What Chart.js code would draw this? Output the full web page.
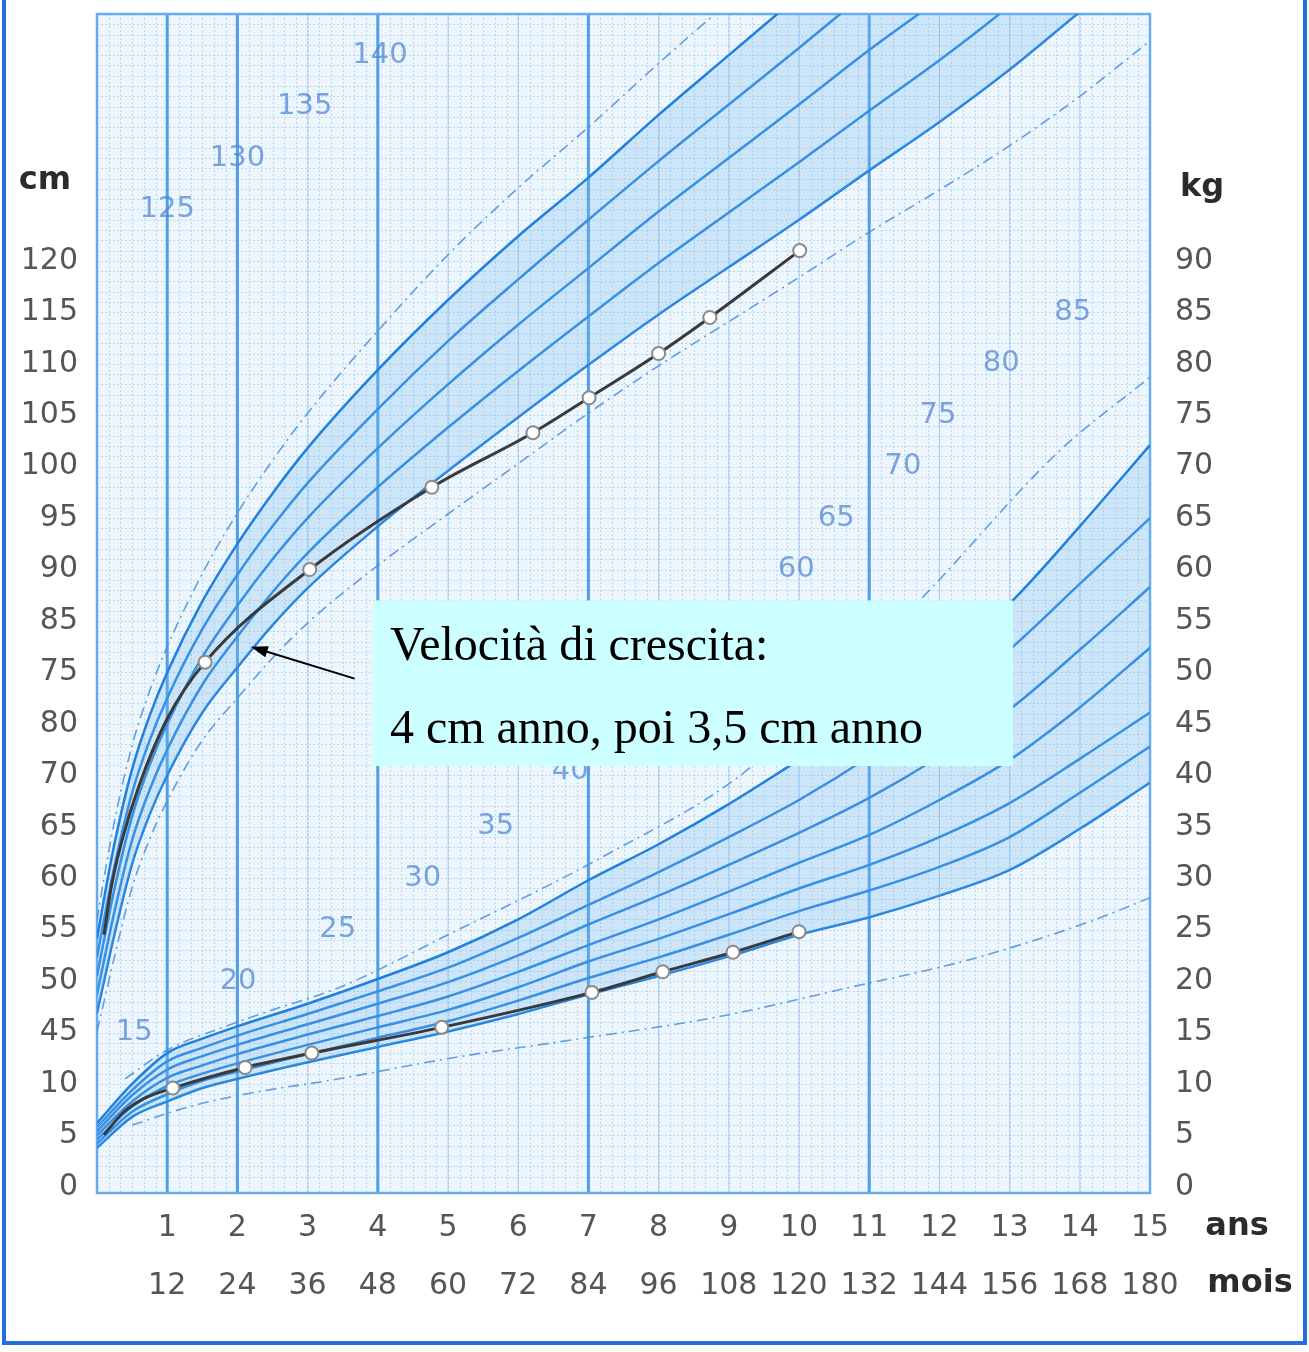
<!DOCTYPE html>
<html>
<head>
<meta charset="utf-8">
<script src="https://cdn.jsdelivr.net/npm/chart.js@4.4.1/dist/chart.umd.min.js"></script>
<style>
  html, body { margin: 0; padding: 0; background: #fff; }
  #wrap { width: 1309px; height: 1352px; }
</style>
</head>
<body>
<div id="wrap"><canvas id="myChart" width="1309" height="1352"></canvas></div>
<script>
// axes
const yearTicks = [1, 2, 3, 4, 5, 6, 7, 8, 9, 10, 11, 12, 13, 14, 15];
const yearLabels = ['1', '2', '3', '4', '5', '6', '7', '8', '9', '10', '11', '12', '13', '14', '15'];
const monthLabels = ['12', '24', '36', '48', '60', '72', '84', '96', '108', '120', '132', '144', '156', '168', '180'];
const cmTicks = [30, 35, 40, 45, 50, 55, 60, 65, 70, 75, 80, 85, 90, 95, 100, 105, 110, 115, 120];
const cmLabels = ['0', '5', '10', '45', '50', '55', '60', '65', '70', '80', '75', '85', '90', '95', '100', '105', '110', '115', '120'];
const kgTicks = [0, 5, 10, 15, 20, 25, 30, 35, 40, 45, 50, 55, 60, 65, 70, 75, 80, 85, 90];
const kgLabels = ['0', '5', '10', '15', '20', '25', '30', '35', '40', '45', '50', '55', '60', '65', '70', '75', '80', '85', '90'];
const majorYears = [1, 2, 4, 7, 11];

// height reference curves (cm)
const hAges   = [0, 0.1, 0.25, 0.5, 0.75, 1, 1.5, 2, 2.5, 3, 4, 5, 6, 7, 8, 9, 10, 11, 12, 13, 14, 15];
const hPlus3  = [55.9, 60, 65.6, 72.9, 78.2, 82.5, 89.6, 95.5, 100.6, 105.2, 113.2, 120.6, 127.1, 133.0, 139.2, 145.2, 151.2, 157.4, 163.5, 170.2, 177.2, 184];
const hPlus2  = [54.1, 58, 63.4, 70.6, 75.8, 80, 86.9, 92.5, 97.4, 101.8, 109.4, 116.2, 122.4, 128.1, 134.2, 140.0, 145.8, 151.7, 157.4, 163.6, 170.4, 177];
const hPlus1  = [52.3, 56, 61.2, 68.3, 73.4, 77.5, 84.2, 89.5, 94.2, 98.4, 105.6, 112.2, 118.2, 124, 129.7, 135.2, 140.7, 146.3, 151.7, 157.6, 164, 170.2];
const hMedian = [50.5, 54, 59, 66, 71, 75, 81.5, 86.5, 91, 95, 101.8, 108, 113.8, 119.3, 124.8, 130, 135.2, 140.5, 145.5, 151, 157, 163];
const hMinus1 = [48.7, 52, 56.8, 63.7, 68.6, 72.5, 78.8, 83.5, 87.8, 91.6, 98, 103.8, 109.3, 114.6, 119.8, 124.7, 129.6, 134.6, 139.5, 144.8, 150.6, 156.4];
const hMinus2 = [46.9, 50, 54.6, 61.4, 66.2, 70, 76.1, 80.5, 84.6, 88.2, 94.2, 99.6, 104.8, 109.9, 114.8, 119.4, 124, 128.8, 133.5, 138.6, 144.2, 149.6];
const hMinus3 = [45.1, 48, 52.4, 59.1, 63.8, 67.5, 73.4, 77.5, 81.4, 84.8, 90.4, 95.4, 100.3, 105.2, 109.8, 114.1, 118.4, 122.8, 126.9, 131.2, 136, 141.4];

// weight reference curves (kg)
const wAges = [0, 0.5, 1, 1.5, 2, 3, 4, 5, 6, 7, 8, 9, 10, 11, 12, 13, 14, 15];
const w97 = [6.2, 10.0, 13.0, 14.4, 15.6, 17.8, 20.2, 22.8, 26.0, 29.8, 33.3, 37.2, 41.5, 45.8, 50.8, 56.7, 64.2, 72.1];
const w90 = [5.8, 9.4, 12.2, 13.5, 14.7, 16.8, 19.0, 21.3, 24.2, 27.4, 30.6, 34.0, 37.6, 41.8, 46.6, 52.2, 58.6, 65.0];
const w75 = [5.4, 8.9, 11.4, 12.7, 13.8, 15.8, 17.8, 19.9, 22.5, 25.5, 28.3, 31.3, 34.4, 37.8, 41.8, 46.4, 52.2, 58.3];
const w50 = [5.0, 8.3, 10.6, 11.8, 12.9, 14.8, 16.6, 18.5, 20.9, 23.5, 26.0, 28.7, 31.5, 34.2, 37.6, 41.5, 46.6, 52.4];
const w25 = [4.6, 7.8, 9.8, 11.0, 12.0, 13.8, 15.5, 17.2, 19.4, 21.9, 24.1, 26.5, 29.0, 31.3, 34.0, 37.3, 41.6, 46.1];
const w10 = [4.2, 7.3, 9.0, 10.3, 11.2, 12.9, 14.5, 16.1, 18.1, 20.3, 22.3, 24.5, 26.8, 28.8, 31.1, 34.0, 38.3, 42.8];
const w3  = [3.8, 6.8, 8.3, 9.6, 10.5, 12.1, 13.6, 15.1, 16.8, 18.7, 20.5, 22.4, 24.5, 26.2, 28.3, 30.8, 34.8, 39.3];
const wHighAges = [0.4, 1.0, 1.71, 2.5, 3.46, 5.0, 7.21, 9.26, 11.72, 13.72, 15];
const wHigh     = [10.5, 13.3, 15.3, 17.2, 19.4, 24.5, 32.1, 40.5, 57.0, 71.6, 78.7];
const wLowAges  = [0.5, 1.32, 2.18, 3.36, 5.03, 6.98, 8.83, 10.73, 12.44, 14.19, 15];
const wLow      = [6.0, 7.8, 9.1, 10.4, 12.5, 14.5, 16.5, 19.4, 22.1, 25.9, 28.1];

// the child
const childHeightAges = [0.1, 0.2, 0.35, 0.6, 1.0, 1.54, 3.03, 4.77, 6.21, 7.01, 8.0, 8.73, 10.01];
const childHeight     = [54.5, 59, 63.5, 69, 75.5, 81.0, 90.0, 98.0, 103.3, 106.7, 111.0, 114.5, 121.0];
const childHeightSeen = [false, false, false, false, false, true, true, true, true, true, true, true, true];
const childWeightAges = [0.1, 0.37, 0.66, 1.08, 2.11, 3.06, 4.91, 7.05, 8.06, 9.06, 10.0];
const childWeight     = [5.05, 7.2, 8.55, 9.6, 11.6, 13.0, 15.5, 18.9, 20.9, 22.8, 24.8];
const childWeightSeen = [false, false, false, true, true, true, true, true, true, true, true];

// numbers printed on the paper
const heightMarks = ['125', '130', '135', '140'];
const heightMarkAges = [1.0, 2.0, 2.96, 4.03];
const heightMarkValues = [125, 130, 135, 140];
const weightMarks = ['15', '20', '25', '30', '35', '40', '60', '65', '70', '75', '80', '85'];
const weightMarkAges = [0.53, 2.01, 3.43, 4.64, 5.68, 6.74, 9.96, 10.53, 11.48, 11.98, 12.88, 13.9];
const weightMarkValues = [15, 20, 25, 30, 35, 40.4, 60, 65, 70, 75, 80, 85];

const noteLines = ['Velocità di crescita:', '4 cm anno, poi 3,5 cm anno'];

const BLUE = 'rgb(32,128,222)';
const DASH_BLUE = 'rgba(70,145,220,0.85)';
const BAND = 'rgba(120,188,240,0.28)';
const SANS = '"DejaVu Sans"';

function pts(xs, ys) {
    return xs.map((x, i) => ({ x: x, y: ys[i] }));
}

function solid(data, axis, fill) {
    return {
        data: data, yAxisID: axis, borderColor: BLUE, borderWidth: 2.5,
        pointRadius: 0, cubicInterpolationMode: 'monotone',
        fill: fill || false, backgroundColor: BAND, order: 2
    };
}

function dashed(data, axis) {
    return {
        data: data, yAxisID: axis, borderColor: DASH_BLUE, borderWidth: 1.6,
        borderDash: [11, 5, 2, 5], pointRadius: 0, cubicInterpolationMode: 'monotone',
        fill: false, order: 3
    };
}

function child(xs, ys, seen, axis) {
    return {
        data: pts(xs, ys), yAxisID: axis, borderColor: '#3a3a3a', borderWidth: 3,
        cubicInterpolationMode: 'monotone',
        pointRadius: seen.map(s => s ? 6.5 : 0),
        pointBackgroundColor: '#ffffff', pointBorderColor: '#8a8a8a', pointBorderWidth: 2,
        fill: false, order: 0
    };
}

const paper = {
    id: 'paper',
    beforeDatasetsDraw(chart) {
        const { ctx, chartArea: a, scales } = chart;
        const x = scales.x, yW = scales.yW, yH = scales.yH;
        ctx.save();
        ctx.fillStyle = 'rgb(238,246,253)';
        ctx.fillRect(a.left, a.top, a.right - a.left, a.bottom - a.top);
        // millimetre paper
        ctx.strokeStyle = 'rgba(135,185,232,0.5)';
        ctx.lineWidth = 1;
        ctx.setLineDash([2, 2]);
        for (let m = 2; m < 180; m += 2) {
            const px = Math.round(x.getPixelForValue(m / 12)) + 0.5;
            ctx.beginPath(); ctx.moveTo(px, a.top); ctx.lineTo(px, a.bottom); ctx.stroke();
        }
        for (let v = 1; v < 114; v += 1) {
            const py = Math.round(yW.getPixelForValue(v)) + 0.5;
            ctx.beginPath(); ctx.moveTo(a.left, py); ctx.lineTo(a.right, py); ctx.stroke();
        }
        ctx.setLineDash([]);
        ctx.strokeStyle = 'rgba(110,170,232,0.5)';
        for (let yr = 1; yr < 15; yr++) {
            const px = x.getPixelForValue(yr);
            ctx.beginPath(); ctx.moveTo(px, a.top); ctx.lineTo(px, a.bottom); ctx.stroke();
        }
        ctx.strokeStyle = 'rgb(78,158,232)';
        ctx.lineWidth = 3;
        majorYears.forEach(yr => {
            const px = x.getPixelForValue(yr);
            ctx.beginPath(); ctx.moveTo(px, a.top); ctx.lineTo(px, a.bottom); ctx.stroke();
        });
        ctx.strokeStyle = 'rgb(105,172,236)';
        ctx.lineWidth = 2.5;
        ctx.strokeRect(a.left, a.top, a.right - a.left, a.bottom - a.top);

        ctx.fillStyle = 'rgba(80,135,210,0.75)';
        ctx.font = '29px ' + SANS;
        ctx.textAlign = 'center';
        ctx.textBaseline = 'middle';
        heightMarks.forEach((t, i) => {
            ctx.fillText(t, x.getPixelForValue(heightMarkAges[i]), yH.getPixelForValue(heightMarkValues[i]));
        });
        weightMarks.forEach((t, i) => {
            ctx.fillText(t, x.getPixelForValue(weightMarkAges[i]), yW.getPixelForValue(weightMarkValues[i]));
        });
        ctx.restore();
    }
};

const note = {
    id: 'note',
    afterDatasetsDraw(chart) {
        const { ctx, scales } = chart;
        const x = scales.x, yW = scales.yW, yH = scales.yH;
        ctx.save();
        const l = x.getPixelForValue(3.93), r = x.getPixelForValue(13.05);
        const t = yW.getPixelForValue(57.0), b = yW.getPixelForValue(40.9);
        ctx.fillStyle = 'rgb(204,255,255)';
        ctx.fillRect(l, t, r - l, b - t);
        ctx.fillStyle = '#000';
        ctx.font = '48px "Liberation Serif"';
        ctx.textAlign = 'left';
        ctx.textBaseline = 'alphabetic';
        ctx.fillText(noteLines[0], l + 17, t + 60);
        ctx.fillText(noteLines[1], l + 17, t + 143);

        // arrow towards the curve
        const x1 = x.getPixelForValue(3.67), y1 = yH.getPixelForValue(79.4);
        const x2 = x.getPixelForValue(2.19), y2 = yH.getPixelForValue(82.5);
        const ang = Math.atan2(y2 - y1, x2 - x1);
        ctx.strokeStyle = '#000';
        ctx.lineWidth = 2;
        ctx.beginPath(); ctx.moveTo(x1, y1); ctx.lineTo(x2 - 12 * Math.cos(ang), y2 - 12 * Math.sin(ang)); ctx.stroke();
        ctx.beginPath();
        ctx.moveTo(x2, y2);
        ctx.lineTo(x2 - 18 * Math.cos(ang - 0.33), y2 - 18 * Math.sin(ang - 0.33));
        ctx.lineTo(x2 - 18 * Math.cos(ang + 0.33), y2 - 18 * Math.sin(ang + 0.33));
        ctx.closePath();
        ctx.fillStyle = '#000';
        ctx.fill();
        ctx.restore();
    },
    afterDraw(chart) {
        const { ctx, chartArea: a, scales } = chart;
        const yW = scales.yW;
        ctx.save();
        ctx.fillStyle = '#2b2b2b';
        ctx.font = 'bold 32px ' + SANS;
        ctx.textBaseline = 'middle';
        ctx.textAlign = 'center';
        ctx.fillText('cm', a.left - 52, yW.getPixelForValue(97.8));
        ctx.fillText('kg', a.right + 52, yW.getPixelForValue(97.1));
        ctx.fillText('ans', a.right + 87, a.bottom + 34);
        ctx.fillText('mois', a.right + 100, a.bottom + 91);
        // page frame
        ctx.strokeStyle = 'rgb(36,110,222)';
        ctx.lineWidth = 4;
        ctx.beginPath();
        ctx.moveTo(4, 0); ctx.lineTo(4, 1343); ctx.lineTo(1305, 1343); ctx.lineTo(1305, 0);
        ctx.stroke();
        ctx.restore();
    }
};

const tickFont = { family: 'DejaVu Sans', size: 30 };

function fitY(width) {
    return (s) => { s.width = width; s.paddingTop = 0; s.paddingBottom = 0; };
}

function fitX(s) {
    s.height = 60; s.paddingLeft = 0; s.paddingRight = 0;
}

new Chart(document.getElementById('myChart'), {
    type: 'line',
    data: {
        datasets: [
            child(childHeightAges, childHeight, childHeightSeen, 'yH'),
            child(childWeightAges, childWeight, childWeightSeen, 'yW'),
            solid(pts(hAges, hPlus2), 'yH', '+4'),
            solid(pts(hAges, hPlus1), 'yH'),
            solid(pts(hAges, hMedian), 'yH'),
            solid(pts(hAges, hMinus1), 'yH'),
            solid(pts(hAges, hMinus2), 'yH'),
            dashed(pts(hAges, hPlus3), 'yH'),
            dashed(pts(hAges, hMinus3), 'yH'),
            solid(pts(wAges, w97), 'yW', '+6'),
            solid(pts(wAges, w90), 'yW'),
            solid(pts(wAges, w75), 'yW'),
            solid(pts(wAges, w50), 'yW'),
            solid(pts(wAges, w25), 'yW'),
            solid(pts(wAges, w10), 'yW'),
            solid(pts(wAges, w3), 'yW'),
            dashed(pts(wHighAges, wHigh), 'yW'),
            dashed(pts(wLowAges, wLow), 'yW')
        ]
    },
    options: {
        responsive: false,
        animation: false,
        devicePixelRatio: 1,
        layout: { padding: { top: 14, bottom: 39, left: 0, right: 0 } },
        plugins: { legend: { display: false }, tooltip: { enabled: false } },
        scales: {
            x: {
                type: 'linear', min: 0, max: 15, position: 'bottom',
                grid: { display: false, drawTicks: false }, border: { display: false },
                afterBuildTicks: (s) => { s.ticks = yearTicks.map(v => ({ value: v })); },
                afterFit: fitX,
                ticks: { font: tickFont, color: '#555', padding: 17, maxRotation: 0, autoSkip: false,
                    callback: (v, i) => yearLabels[i] }
            },
            x2: {
                type: 'linear', min: 0, max: 15, position: 'bottom',
                grid: { display: false, drawTicks: false }, border: { display: false },
                afterBuildTicks: (s) => { s.ticks = yearTicks.map(v => ({ value: v })); },
                afterFit: fitX,
                ticks: { font: tickFont, color: '#555', padding: 15, maxRotation: 0, autoSkip: false,
                    callback: (v, i) => monthLabels[i] }
            },
            yH: {
                type: 'linear', position: 'left', min: 29.4, max: 144,
                grid: { display: false, drawTicks: false }, border: { display: false },
                afterBuildTicks: (s) => { s.ticks = cmTicks.map(v => ({ value: v })); },
                afterFit: fitY(97),
                ticks: { font: tickFont, color: '#555', padding: 19, autoSkip: false,
                    callback: (v, i) => cmLabels[i] }
            },
            yW: {
                type: 'linear', position: 'right', min: -0.6, max: 114,
                grid: { display: false, drawTicks: false }, border: { display: false },
                afterBuildTicks: (s) => { s.ticks = kgTicks.map(v => ({ value: v })); },
                afterFit: fitY(159),
                ticks: { font: tickFont, color: '#555', padding: 25, autoSkip: false,
                    callback: (v, i) => kgLabels[i] }
            }
        }
    },
    plugins: [paper, note]
});
</script>
</body>
</html>
